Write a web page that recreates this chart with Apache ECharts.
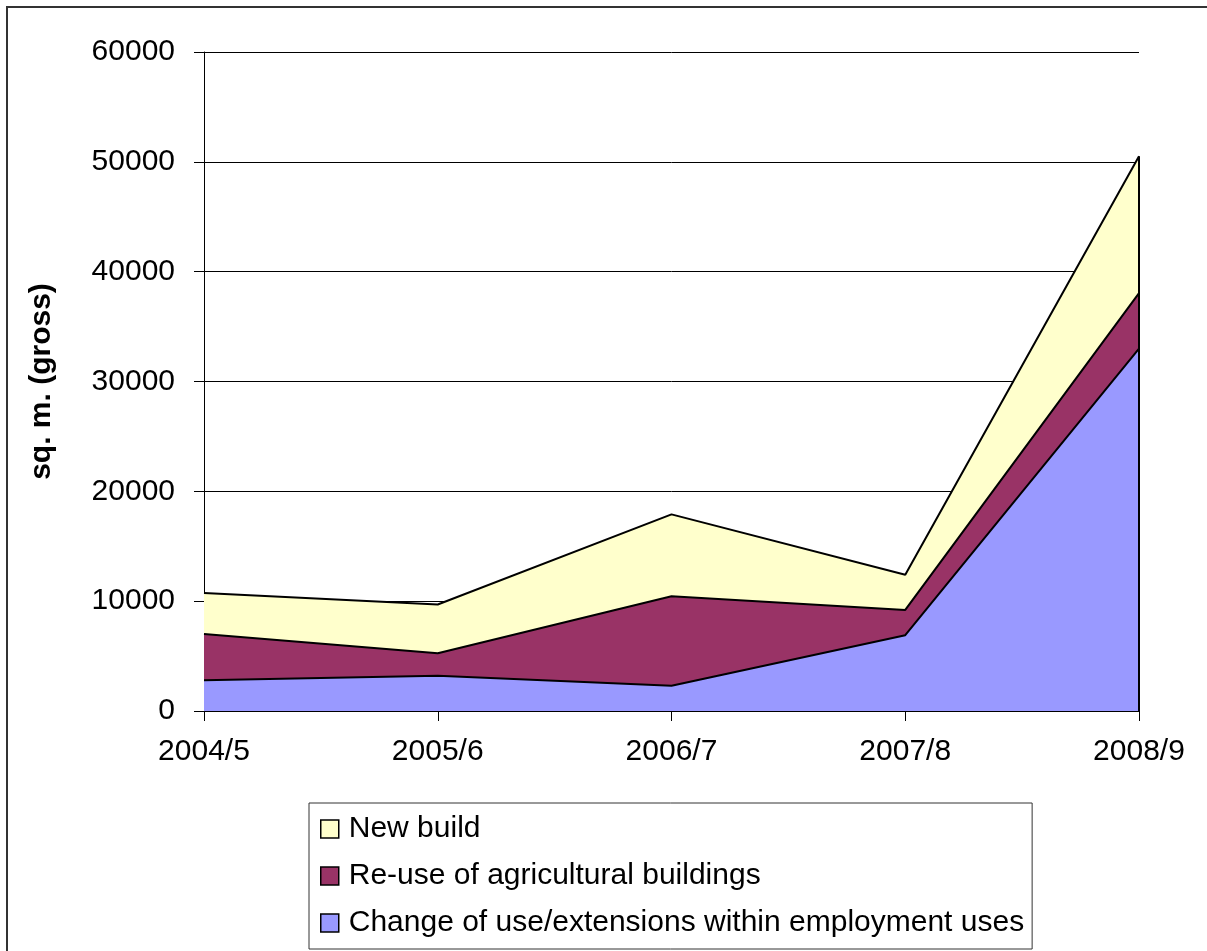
<!DOCTYPE html>
<html>
<head>
<meta charset="utf-8">
<title>Employment floorspace completions</title>
<script src="https://cdn.jsdelivr.net/npm/echarts@6/dist/echarts.min.js"></script>
<style>
  html, body { margin: 0; padding: 0; background: #fff; }
  #chart { width: 1207px; height: 951px; }
</style>
</head>
<body>
<div id="chart"></div>
<script>
// Financial years on the horizontal axis
const years = ['2004/5', '2005/6', '2006/7', '2007/8', '2008/9'];

// Floorspace (sq. m. gross) by type, stacked bottom to top
const changeOfUse = [2800, 3200, 2300, 6900, 33000];
const reuseAgricultural = [4200, 2050, 8150, 2300, 5050];
const newBuild = [3750, 4450, 7450, 3200, 12450];

// Series names as shown in the legend (top to bottom)
const seriesNames = {
  newBuild: 'New build',
  reuse: 'Re-use of agricultural buildings',
  change: 'Change of use/extensions within employment uses'
};

const colors = {
  newBuild: '#FFFFCC',
  reuse: '#993366',
  change: '#9999FF'
};

const FONT = '"Liberation Sans", Arial, sans-serif';

// Stacked total at the last year, used to close the right edge of the area
const lastIdx = years.length - 1;
const lastTotal = changeOfUse[lastIdx] + reuseAgricultural[lastIdx] + newBuild[lastIdx];

function areaSeries(name, data, color, extra) {
  return Object.assign({
    name: name,
    type: 'line',
    stack: 'floorspace',
    data: data,
    symbol: 'none',
    showSymbol: false,
    lineStyle: { color: '#000', width: 2 },
    itemStyle: { color: color },
    areaStyle: { color: color, opacity: 1 },
    emphasis: { disabled: true },
    animation: false
  }, extra || {});
}

const chart = echarts.init(document.getElementById('chart'), null, { renderer: 'canvas' });

chart.setOption({
  backgroundColor: '#fff',
  animation: false,
  textStyle: { fontFamily: FONT, color: '#000' },
  grid: { left: 204, right: 68, top: 52, bottom: 240, containLabel: false },
  xAxis: {
    type: 'category',
    data: years,
    boundaryGap: false,
    axisLine: { show: true, lineStyle: { color: '#000', width: 1 } },
    axisTick: { show: true, length: 10, lineStyle: { color: '#000', width: 1 } },
    axisLabel: { fontFamily: FONT, fontSize: 30, color: '#000', margin: 26 },
    splitLine: { show: false }
  },
  yAxis: {
    type: 'value',
    min: 0,
    max: 60000,
    interval: 10000,
    name: 'sq. m. (gross)',
    nameLocation: 'middle',
    nameRotate: 90,
    nameGap: 147,
    nameTextStyle: { fontFamily: FONT, fontSize: 30, fontWeight: 'bold', color: '#000' },
    axisLine: { show: true, lineStyle: { color: '#000', width: 1 } },
    axisTick: { show: true, length: 10, lineStyle: { color: '#000', width: 1 } },
    axisLabel: {
      fontFamily: FONT,
      fontSize: 30,
      color: '#000',
      margin: 29,
      formatter: function (v) { return String(v); }
    },
    splitLine: { show: true, lineStyle: { color: '#000', width: 1 } }
  },
  legend: {
    orient: 'vertical',
    left: 309,
    top: 803,
    padding: [11, 8, 11, 11],
    itemWidth: 18,
    itemHeight: 18,
    itemGap: 17,
    icon: 'rect',
    borderColor: '#333',
    borderWidth: 1,
    selectedMode: false,
    itemStyle: { borderColor: '#000', borderWidth: 1.5 },
    textStyle: { fontFamily: FONT, fontSize: 30, color: '#000', padding: [0, 0, 0, 5] },
    data: [seriesNames.newBuild, seriesNames.reuse, seriesNames.change]
  },
  graphic: [
    {
      // chart frame: top and left edges visible, the rest runs off the page
      type: 'rect',
      shape: { x: 7, y: 7, width: 1400, height: 1200 },
      style: { fill: 'none', stroke: '#333', lineWidth: 2 },
      silent: true,
      z: 100
    }
  ],
  series: [
    areaSeries(seriesNames.change, changeOfUse, colors.change),
    areaSeries(seriesNames.reuse, reuseAgricultural, colors.reuse),
    areaSeries(seriesNames.newBuild, newBuild, colors.newBuild, {
      markLine: {
        silent: true,
        symbol: ['none', 'none'],
        label: { show: false },
        lineStyle: { color: '#000', width: 2, type: 'solid' },
        data: [[
          { coord: [years[lastIdx], 0] },
          { coord: [years[lastIdx], lastTotal] }
        ]]
      }
    })
  ]
});
</script>
</body>
</html>
